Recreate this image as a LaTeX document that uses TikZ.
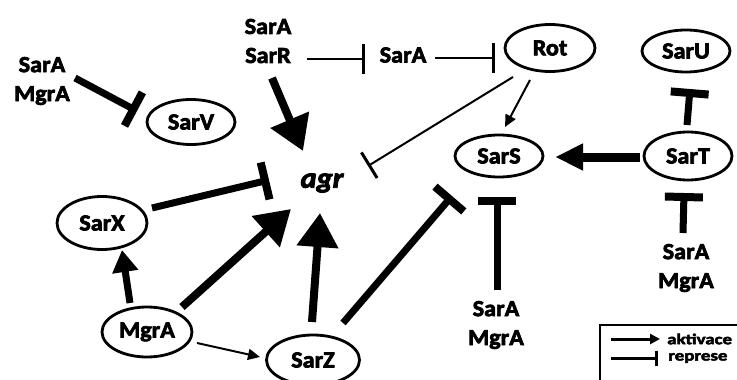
\documentclass[tikz,border=0pt]{standalone}
\usepackage{fontspec}
\setmainfont{Carlito}[BoldFeatures={FakeBold=3,FakeStretch=1.05},BoldItalicFeatures={FakeBold=3,FakeStretch=1.05}]
\usetikzlibrary{arrows.meta,shapes.geometric}
\begin{document}
\begin{tikzpicture}[x=1pt,y=-1pt,
  gene/.style={draw, ellipse, line width=2.8pt, minimum width=88pt, minimum height=45pt, inner sep=0pt, font=\fontsize{23}{26}\selectfont\bfseries},
  lbl/.style={align=center, inner sep=0pt, font=\fontsize{23}{29}\selectfont\bfseries},
  actbig/.style={line width=8pt, -{Triangle[length=34pt 0 0, width=40pt 0 0]}},
  actmid/.style={line width=7pt, -{Triangle[length=22pt 0 0, width=25pt 0 0]}},
  actside/.style={line width=9pt, -{Triangle[length=28pt 0 0, width=25pt 0 0]}},
  actthin/.style={line width=2pt, -{Triangle[length=12pt 0 0, width=11pt 0 0]}},
  repthick/.style={line width=7pt, -{Bar[width=38pt 0 0, line width=8pt 0 0]}},
  repthin/.style={line width=2pt, -{Bar[width=30pt 0 0, line width=3pt 0 0]}},
  leglbl/.style={inner sep=0pt, xscale=1.2, transform shape, font=\fontsize{15}{18}\selectfont\bfseries}
]
\useasboundingbox (0,0) rectangle (737,380);

% gene nodes
\node[gene] (SarV) at (191,122) {SarV};
\node[gene, minimum width=90pt, minimum height=47pt] (Rot) at (550,48) {Rot};
\node[gene, minimum height=42pt] (SarU) at (686,51) {SarU};
\node[gene, minimum height=42pt] (SarS) at (499,156) {SarS};
\node[gene, minimum height=48pt] (SarT) at (688,156) {SarT};
\node[gene, minimum width=90pt, minimum height=53pt] (SarX) at (102,223) {SarX};
\node[gene, minimum width=90pt, minimum height=50pt] (MgrA) at (147,332) {MgrA};
\node[gene, minimum width=93pt, minimum height=50pt] (SarZ) at (313,360) {SarZ};
\node[inner sep=0pt, font=\fontsize{29}{30}\selectfont\bfseries\itshape] (agr) at (322,183) {agr};

% regulator labels
\node[lbl] (lTL) at (42,81) {SarA\\MgrA};
\node[lbl] (lSR) at (268,41) {SarA\\SarR};
\node[lbl] (lMid) at (403,55) {SarA};
\node[lbl] (lBot) at (496,325) {SarA\\MgrA};
\node[lbl] (lRt) at (686,268) {SarA\\MgrA};

% connectors
\draw[repthick] ([shift={(33,-3)}]lTL.center) -- ([shift={(-54,-11)}]SarV.center);
\draw[actbig] ([shift={(4,37)}]lSR.center) -- ([shift={(-19,-32)}]agr.center);
\draw[repthin] ([shift={(39,18)}]lSR.center) -- ([shift={(-38,4)}]lMid.center);
\draw[repthin] ([shift={(32,3)}]lMid.center) -- ([shift={(-55,10)}]Rot.center);
\draw[actthin] ([shift={(-20,32)}]Rot.center) -- ([shift={(6,-29)}]SarS.center);
\draw[repthin] ([shift={(-37,29)}]Rot.center) -- ([shift={(46,-17)}]agr.center);
\draw[actside] ([shift={(-48,1)}]SarT.center) -- ([shift={(56,1)}]SarS.center);
\draw[repthick] ([shift={(-1,-31)}]SarT.center) -- ([shift={(4,38)}]SarU.center);
\draw[repthick] ([shift={(-3,-35)}]lRt.center) -- ([shift={(-4,37)}]SarT.center);
\draw[repthick] ([shift={(1,-35)}]lBot.center) -- ([shift={(-2,41)}]SarS.center);
\draw[repthick] ([shift={(30,-37)}]SarZ.center) -- ([shift={(-47,40)}]SarS.center);
\draw[repthick] ([shift={(50,-15)}]SarX.center) -- ([shift={(-53,-3)}]agr.center);
\draw[actmid] ([shift={(-17,-29)}]MgrA.center) -- ([shift={(20,27)}]SarX.center);
\draw[actbig] ([shift={(35,-25)}]MgrA.center) -- ([shift={(-31,26)}]agr.center);
\draw[actbig] ([shift={(-1,-38)}]SarZ.center) -- ([shift={(-2,30)}]agr.center);
\draw[actthin] ([shift={(50,11)}]MgrA.center) -- ([shift={(-53,-3)}]SarZ.center);

% legend
\draw[line width=1.5pt] (600,392) -- (600,325) -- (745,325);
\coordinate (la1) at (611,339);
\coordinate (la2) at (660,339);
\coordinate (lr1) at (611,358);
\coordinate (lr2) at (658,358);
\draw[line width=3pt, -{Triangle[length=10pt 0 0, width=10pt 0 0]}] (la1) -- (la2);
\draw[line width=3pt, -{Bar[width=15pt 0 0, line width=3pt 0 0]}] (lr1) -- (lr2);
\node[leglbl, anchor=west] (tA) at (667,339) {aktivace};
\node[leglbl, anchor=west] (tR) at (668,358) {represe};
\end{tikzpicture}
\end{document}
